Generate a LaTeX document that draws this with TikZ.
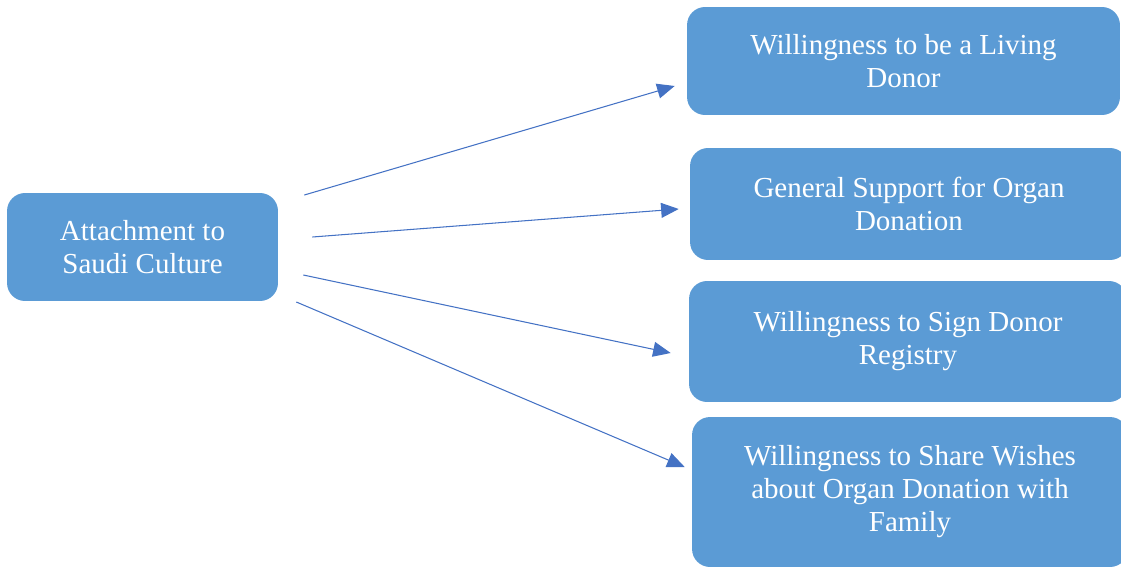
\documentclass[tikz,border=0pt]{standalone}
\usepackage{fontspec}
\setmainfont{Liberation Serif}
\usepackage{xcolor}
\usetikzlibrary{arrows.meta,positioning,calc}
\definecolor{boxblue}{HTML}{5B9BD5}
\definecolor{arrowblue}{HTML}{4472C4}

\begin{document}
\begin{tikzpicture}[x=0.02cm, y=-0.02cm,
	box/.style={fill=boxblue, draw=none, rounded corners=0.36cm, text=white, align=center, inner sep=0pt,
		font=\fontsize{16.5}{18.8}\selectfont},
	conn/.style={draw=arrowblue, line width=0.6pt, -{Triangle[length=10pt, width=8.5pt]}}]
	\useasboundingbox (0,0) rectangle (1121,568);

	\node[box, minimum width=5.42cm, minimum height=2.16cm] (att) at (142.5, 247) {Attachment to\\Saudi Culture};

	\node[box, minimum width=8.66cm, minimum height=2.16cm] (living) at (903.5, 61) {Willingness to be a Living\\Donor};
	\node[box, minimum width=8.76cm, minimum height=2.24cm] (support) at (909, 204) {General Support for Organ\\Donation};
	\node[box, minimum width=8.76cm, minimum height=2.42cm] (registry) at (908, 341.5) {Willingness to Sign Donor\\Registry};
	\node[box, minimum width=8.72cm, minimum height=3.0cm] (family) at (910, 492) {\rule{0pt}{10pt}Willingness to Share Wishes\\about Organ Donation with\\Family};

		\draw[conn] ($(att.east)+(26,-52)$) -- ($(living.west)+(-12,25)$);
		\draw[conn] ($(att.east)+(34,-10)$) -- ($(support.west)+(-11,5)$);
		\draw[conn] ($(att.east)+(25,28)$) -- ($(registry.west)+(-18,11.5)$);
		\draw[conn] ($(att.east)+(18,55)$) -- ($(family.west)+(-7,-25)$);
\end{tikzpicture}
\end{document}
